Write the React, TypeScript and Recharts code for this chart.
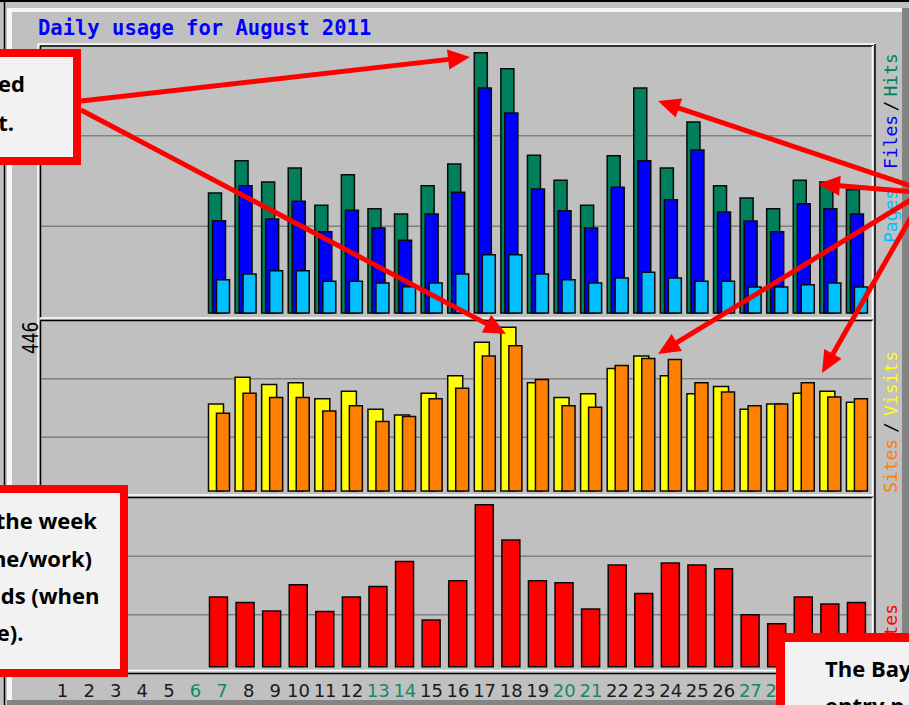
import React from 'react';
import { BarChart, Bar, XAxis, YAxis, CartesianGrid } from 'recharts';

// ---------- data ----------
const DAYS = ['1','2','3','4','5','6','7','8','9','10','11','12','13','14','15','16','17','18','19','20','21','22','23','24','25','26','27','28','29','30','31'];
const WEEKEND_DAYS = ['6','7','13','14','20','21','27','28'];

const HITS = [null,null,null,null,null,null,1320,1675,1441,1595,1184,1521,1147,1089,1400,1639,2863,2687,1734,1459,1184,1730,2475,1595,2101,1400,1265,1147,1459,1441,1356];
const FILES = [null,null,null,null,null,null,1015,1400,1034,1228,894,1129,935,799,1089,1327,2475,2200,1364,1125,935,1382,1675,1246,1793,1111,1012,894,1202,1147,1089];
const PAGES = [null,null,null,null,null,null,366,429,465,465,348,348,330,289,330,429,641,641,429,366,330,385,447,385,348,348,286,286,311,330,286];
const VISITS = [null,null,null,null,null,null,237,310,290,295,251,272,223,207,266,314,405,446,295,255,265,334,368,314,265,285,223,237,266,272,242];
const SITES = [null,null,null,null,null,null,212,266,255,255,218,232,189,203,251,280,368,396,304,232,228,342,361,358,295,270,232,237,295,256,251];
const KBYTES = [null,null,null,null,null,null,27900,25700,22300,32800,22100,27900,32100,42100,18700,34400,64800,50700,34400,33600,23100,40700,29300,41500,40700,39200,20800,17200,27900,25100,25700];

const VISITS_MAX_LABEL = '446';

const rows = DAYS.map((day, i) => ({
  day,
  hits: HITS[i],
  files: FILES[i],
  pages: PAGES[i],
  visits: VISITS[i],
  sites: SITES[i],
  kbytes: KBYTES[i],
}));

// ---------- axis settings ----------
const HITS_DOMAIN: [number, number] = [-44, 2948];
const VISITS_DOMAIN: [number, number] = [-13.6, 465.8];
const KB_DOMAIN: [number, number] = [-2520, 67480];
const thirds = (d: [number, number]) => [d[0] + (d[1] - d[0]) / 3, d[0] + (2 * (d[1] - d[0])) / 3];

const PLOT_LEFT = 40;
const PLOT_WIDTH = 832;
const X_PAD = { left: 6, right: 2 };
const GRID = '#808080';
const BAR_STROKE = '#0a0a0a';

const C_HITS = '#00805c';
const C_FILES = '#0000ff';
const C_PAGES = '#00c0ff';
const C_VISITS = '#ffff00';
const C_SITES = '#ff8000';
const C_KB = '#ff0000';

// ---------- annotations ----------
const ARROWS = [
  { from: [81, 101], to: [470, 57] },
  { from: [81, 110], to: [506, 334] },
  { from: [914, 187], to: [658, 101] },
  { from: [914, 192], to: [818, 184] },
  { from: [914, 198], to: [658, 354] },
  { from: [914, 212], to: [822, 373] },
];

const DayTick = (props: any) => {
  const { x, y, payload } = props;
  const label = String(payload.value);
  const weekend = WEEKEND_DAYS.includes(label);
  const dx = label.length === 1 ? 3.3 : 0;
  return (
    <text x={x + dx} y={y + 24} textAnchor="middle" fontFamily="DejaVu Sans" fontSize={18} fill={weekend ? '#138a66' : '#1a1a1a'}>
      {label}
    </text>
  );
};

const Arrow = ({ from, to }: { from: number[]; to: number[] }) => {
  const [x1, y1] = from;
  const [x2, y2] = to;
  const dx = x2 - x1;
  const dy = y2 - y1;
  const len = Math.hypot(dx, dy);
  const ux = dx / len;
  const uy = dy / len;
  const HL = 22;
  const HW = 10;
  const bx = x2 - ux * HL;
  const by = y2 - uy * HL;
  const px = -uy;
  const py = ux;
  const pts = `${x2},${y2} ${bx + px * HW},${by + py * HW} ${bx - px * HW},${by - py * HW}`;
  return (
    <g>
      <line x1={x1} y1={y1} x2={bx + ux * 3} y2={by + uy * 3} stroke="#ff0000" strokeWidth={5} />
      <polygon points={pts} fill="#ff0000" />
    </g>
  );
};

const vText = (x: number, y: number, text: string, fill: string, size = 18, family = 'DejaVu Sans Mono', key?: string) => (
  <text key={key} transform={`translate(${x},${y}) rotate(-90)`} fontFamily={family} fontSize={size} fill={fill}>
    {text}
  </text>
);

export default function App() {
  return (
    <div style={{ position: 'absolute', left: 0, top: 0, width: 909, height: 705, overflow: 'hidden', background: '#c0c0c0' }}>
      {/* top panel: hits / files / pages */}
      <div style={{ position: 'absolute', left: PLOT_LEFT, top: 45 }}>
        <BarChart width={PLOT_WIDTH} height={272} data={rows} margin={{ top: 0, right: 0, bottom: 0, left: 0 }} barGap={-9}>
          <CartesianGrid vertical={false} horizontalValues={thirds(HITS_DOMAIN)} stroke={GRID} strokeWidth={1.5} />
          <XAxis dataKey="day" hide padding={X_PAD} />
          <YAxis hide type="number" domain={HITS_DOMAIN} allowDataOverflow ticks={thirds(HITS_DOMAIN)} />
          <Bar dataKey="hits" fill={C_HITS} stroke={BAR_STROKE} strokeWidth={1.5} barSize={13} isAnimationActive={false} />
          <Bar dataKey="files" fill={C_FILES} stroke={BAR_STROKE} strokeWidth={1.5} barSize={13} isAnimationActive={false} />
          <Bar dataKey="pages" fill={C_PAGES} stroke={BAR_STROKE} strokeWidth={1.5} barSize={13} isAnimationActive={false} />
        </BarChart>
      </div>

      {/* middle panel: visits / sites */}
      <div style={{ position: 'absolute', left: PLOT_LEFT, top: 320 }}>
        <BarChart width={PLOT_WIDTH} height={176} data={rows} margin={{ top: 0, right: 0, bottom: 0, left: 0 }} barGap={-7}>
          <CartesianGrid vertical={false} horizontalValues={thirds(VISITS_DOMAIN)} stroke={GRID} strokeWidth={1.5} />
          <XAxis dataKey="day" hide padding={X_PAD} />
          <YAxis hide type="number" domain={VISITS_DOMAIN} allowDataOverflow ticks={thirds(VISITS_DOMAIN)} />
          <Bar dataKey="visits" fill={C_VISITS} stroke={BAR_STROKE} strokeWidth={1.5} barSize={15} isAnimationActive={false} />
          <Bar dataKey="sites" fill={C_SITES} stroke={BAR_STROKE} strokeWidth={1.5} barSize={13} isAnimationActive={false} />
        </BarChart>
      </div>

      {/* bottom panel: kbytes + day axis */}
      <div style={{ position: 'absolute', left: PLOT_LEFT, top: 498 }}>
        <BarChart width={PLOT_WIDTH} height={175 + 32} data={rows} margin={{ top: 0, right: 0, bottom: 0, left: 0 }}>
          <CartesianGrid vertical={false} horizontalValues={thirds(KB_DOMAIN)} stroke={GRID} strokeWidth={1.5} />
          <XAxis
            dataKey="day"
            height={32}
            padding={X_PAD}
            axisLine={false}
            tickLine={false}
            tickSize={0}
            tickMargin={0}
            interval={0}
            tick={(p: any) => <DayTick {...p} />}
          />
          <YAxis hide type="number" domain={KB_DOMAIN} allowDataOverflow ticks={thirds(KB_DOMAIN)} />
          <Bar dataKey="kbytes" fill={C_KB} stroke={BAR_STROKE} strokeWidth={1.5} barSize={18} isAnimationActive={false} />
        </BarChart>
      </div>

      {/* frame, bevels, labels */}
      <svg width={909} height={705} style={{ position: 'absolute', left: 0, top: 0, pointerEvents: 'none' }}>
        {/* outer border + bevel */}
        <line x1={0} y1={1} x2={909} y2={1} stroke="#000" strokeWidth={2} />
        <line x1={4.5} y1={0} x2={4.5} y2={705} stroke="#000" strokeWidth={1.5} />
        <rect x={7} y={8} width={5} height={692} fill="#f6f6f6" />
        <rect x={7} y={8} width={895} height={4} fill="#f6f6f6" />
        <rect x={902} y={8} width={7} height={697} fill="#848484" />
        <rect x={7} y={700} width={902} height={5} fill="#848484" />

        {/* plot outer frame */}
        <line x1={38} y1={44} x2={875} y2={44} stroke="#fff" strokeWidth={1.5} />
        <line x1={38} y1={44} x2={38} y2={674} stroke="#fff" strokeWidth={1.5} />
        <line x1={38} y1={673.5} x2={875} y2={673.5} stroke="#000" strokeWidth={1.5} />
        <line x1={875} y1={44} x2={875} y2={674} stroke="#000" strokeWidth={1.5} />
        {/* panel frames */}
        {[
          [46, 318],
          [320.5, 495],
          [497.5, 670.5],
        ].map(([t, b], i) => (
          <g key={i}>
            <line x1={40} y1={t} x2={873} y2={t} stroke="#000" strokeWidth={1.5} />
            <line x1={40.5} y1={t} x2={40.5} y2={b} stroke="#000" strokeWidth={1.5} />
            <line x1={40} y1={b} x2={873} y2={b} stroke="#fff" strokeWidth={1.5} />
            <line x1={872.5} y1={t} x2={872.5} y2={b} stroke="#fff" strokeWidth={1.5} />
          </g>
        ))}

        {/* title */}
        <text x={38} y={35} fontFamily="DejaVu Sans Mono" fontWeight="bold" fontSize={20.5} fill="#0000ff">
          Daily usage for August 2011
        </text>

        {/* left max label */}
        <text transform="translate(38,354) rotate(-90) scale(1,1.2)" fontFamily="DejaVu Sans" fontSize={17} fill="#000">
          {VISITS_MAX_LABEL}
        </text>

        {/* right legends */}
        {vText(897, 243, 'Pages', C_PAGES, 18, 'DejaVu Sans Mono', 'p')}
        {vText(897, 184, '/', '#000', 18, 'DejaVu Sans Mono', 's1')}
        {vText(897, 169, 'Files', C_FILES, 18, 'DejaVu Sans Mono', 'f')}
        {vText(897, 111.5, '/', '#000', 18, 'DejaVu Sans Mono', 's2')}
        {vText(897, 96.5, 'Hits', C_HITS, 18, 'DejaVu Sans Mono', 'h')}
        {vText(897, 493, 'Sites', C_SITES, 18, 'DejaVu Sans Mono', 'si')}
        {vText(897, 433, '/', '#000', 18, 'DejaVu Sans Mono', 's3')}
        {vText(897, 416, 'Visits', C_VISITS, 18, 'DejaVu Sans Mono', 'v')}
        {vText(897, 669, 'KBytes', C_KB, 18, 'DejaVu Sans Mono', 'k')}
      </svg>

      {/* annotation callouts */}
      <svg width={909} height={705} style={{ position: 'absolute', left: 0, top: 0, pointerEvents: 'none' }}>
        {ARROWS.map((a, i) => (
          <Arrow key={i} from={a.from} to={a.to} />
        ))}
        <rect x={-16} y={53} width={93} height={108} fill="#f2f2f2" stroke="#ff0000" strokeWidth={8} />
        <rect x={-16} y={489} width={140} height={184} fill="#f2f2f2" stroke="#ff0000" strokeWidth={8} />
        <rect x={780.5} y={637.5} width={200} height={200} fill="#f2f2f2" stroke="#ff0000" strokeWidth={9} />
        <g fontFamily="Open Sans" fontWeight={700} fontSize={22} fill="#000">
          <text x={25} y={92} textAnchor="end">ed</text>
          <text x={14} y={131} textAnchor="end">t.</text>
          <text x={97} y={529} textAnchor="end">the week</text>
          <text x={92} y={567} textAnchor="end">ne/work)</text>
          <text x={99.5} y={604} textAnchor="end">ds (when</text>
          <text x={23.5} y={641} textAnchor="end">e).</text>
          <text x={825} y={677}>The Bay</text>
          <text x={825} y={714}>entry p</text>
        </g>
      </svg>
    </div>
  );
}
